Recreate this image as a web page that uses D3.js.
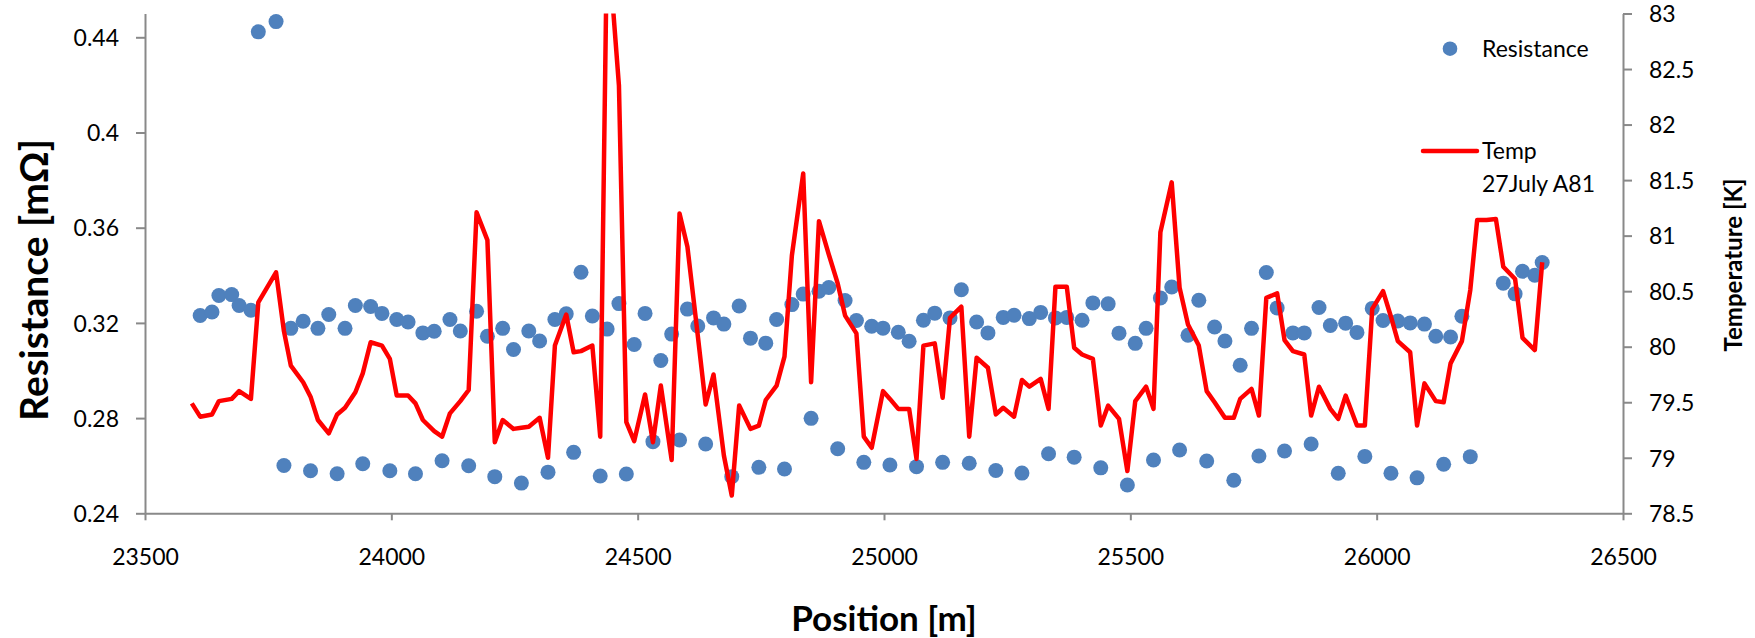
<!DOCTYPE html>
<html>
<head>
<meta charset="utf-8">
<script src="https://cdn.jsdelivr.net/npm/d3@7"></script>
<style>
  html, body { margin: 0; padding: 0; background: #fff; }
  svg { display: block; }
  text { font-family: Lato, "Open Sans", sans-serif; fill: #000; }
</style>
</head>
<body>
<svg id="chart" width="1755" height="638"></svg>
<script>
// ---- data ----
const position = [
  23595, 23612, 23636, 23650, 23676, 23691, 23715, 23730, 23766, 23782,
  23796, 23821, 23836, 23851, 23873, 23890, 23906, 23927, 23942, 23958,
  23981, 23997, 24011, 24034, 24049, 24064, 24087, 24103, 24119, 24140,
  24157, 24173, 24195, 24210, 24226, 24248, 24264, 24279, 24301, 24318,
  24332, 24355, 24370, 24385, 24408, 24424, 24438, 24462, 24477, 24493,
  24515, 24531, 24547, 24569, 24585, 24601, 24622, 24638, 24654, 24675,
  24691, 24706, 24729, 24746, 24760, 24782, 24798, 24813, 24836, 24852,
  24868, 24888, 24906, 24921, 24944, 24959, 24975, 24998, 25012, 25029,
  25051, 25066, 25080, 25103, 25119, 25134, 25157, 25173, 25188, 25211,
  25227, 25242, 25264, 25280, 25295, 25318, 25334, 25348, 25371, 25386,
  25402, 25424, 25440, 25455, 25477, 25494, 25510, 25532, 25547, 25561,
  25584, 25600, 25617, 25639, 25655, 25671, 25692, 25710, 25723, 25746,
  25761, 25776, 25798, 25813, 25830, 25853, 25867, 25883, 25906, 25922,
  25937, 25960, 25976, 25991, 26013, 26029, 26043, 26068, 26082, 26097,
  26120, 26136, 26150, 26173, 26190, 26204, 26223, 26242, 26257, 26281,
  26296, 26321, 26336
];
const resistance = [
  null,   0.3231, 0.3246, 0.3315, 0.3319, 0.3273, 0.3253, 0.4423, 0.4466, 0.2601,
  0.3177, 0.3207, 0.2579, 0.3177, 0.3235, 0.2566, 0.3177, 0.3273, 0.2608, 0.3269,
  0.3240, 0.2579, 0.3214, 0.3204, 0.2566, 0.3158, 0.3165, 0.2621, 0.3214, 0.3166,
  0.2600, 0.3249, 0.3144, 0.2554, 0.3177, 0.3088, 0.2527, 0.3166, 0.3124, 0.2573,
  0.3214, 0.3238, 0.2656, 0.3413, 0.3229, 0.2557, 0.3174, 0.3281, 0.2565, 0.3109,
  0.3240, 0.2701, 0.3042, 0.3153, 0.2708, 0.3258, 0.3187, 0.2691, 0.3221, 0.3195,
  0.2554, 0.3271, 0.3136, 0.2593, 0.3115, 0.3214, 0.2586, 0.3277, 0.3321, 0.2799,
  0.3333, 0.3349, 0.2671, 0.3294, 0.3210, 0.2614, 0.3186, 0.3178, 0.2603, 0.3161,
  0.3123, 0.2596, 0.3211, 0.3241, 0.2614, 0.3221, 0.3339, 0.2610, 0.3204, 0.3158,
  0.2580, 0.3223, 0.3232, 0.2569, 0.3218, 0.3244, 0.2650, 0.3221, 0.3223, 0.2636,
  0.3211, 0.3284, 0.2591, 0.3280, 0.3157, 0.2519, 0.3114, 0.3177, 0.2624, 0.3305,
  0.3351, 0.2666, 0.3148, 0.3295, 0.2620, 0.3183, 0.3124, 0.2539, 0.3022, 0.3177,
  0.2641, 0.3412, 0.3263, 0.2662, 0.3158, 0.3158, 0.2691, 0.3265, 0.3189, 0.2568,
  0.3199, 0.3160, 0.2639, 0.3261, 0.3210, 0.2568, 0.3208, 0.3200, 0.2549, 0.3195,
  0.3144, 0.2606, 0.3141, 0.3228, 0.2638, null,   null,   null,   0.3367, 0.3322,
  0.3417, 0.3400, 0.3454
];
const temperature = [
  79.49, 79.37, 79.39, 79.51, 79.53, 79.60, 79.53, 80.40, 80.67, 80.14,
  79.83, 79.68, 79.55, 79.34, 79.22, 79.39, 79.45, 79.59, 79.76, 80.04,
  80.01, 79.89, 79.56, 79.56, 79.49, 79.34, 79.24, 79.19, 79.40, 79.51,
  79.61, 81.21, 80.96, 79.14, 79.34, 79.26, 79.27, 79.28, 79.36, 79.00,
  80.01, 80.29, 79.95, 79.96, 80.01, 79.19, 83.75, 82.35, 79.32, 79.15,
  79.57, 79.14, 79.65, 78.98, 81.20, 80.90, 80.10, 79.48, 79.75, 79.02,
  78.66, 79.47, 79.26, 79.29, 79.52, 79.65, 79.91, 80.82, 81.56, 79.68,
  81.13, 80.83, 80.57, 80.28, 80.12, 79.19, 79.09, 79.60, 79.53, 79.44,
  79.44, 78.99, 80.01, 80.03, 79.54, 80.26, 80.36, 79.19, 79.90, 79.81,
  79.39, 79.45, 79.37, 79.70, 79.64, 79.71, 79.44, 80.54, 80.54, 79.99,
  79.93, 79.89, 79.29, 79.47, 79.35, 78.88, 79.51, 79.64, 79.44, 81.03,
  81.48, 80.53, 80.20, 80.01, 79.60, 79.50, 79.36, 79.36, 79.53, 79.62,
  79.38, 80.44, 80.48, 80.06, 79.96, 79.93, 79.38, 79.64, 79.44, 79.35,
  79.56, 79.29, 79.29, 80.34, 80.50, 80.27, 80.05, 79.95, 79.29, 79.67,
  79.51, 79.50, 79.85, 80.05, 80.51, 81.14, 81.14, 81.15, 80.72, 80.61,
  80.08, 79.97, 80.76
];
const xTicks = [23500, 24000, 24500, 25000, 25500, 26000, 26500];
const resTicks = [0.24, 0.28, 0.32, 0.36, 0.4, 0.44];
const tempTicks = [78.5, 79, 79.5, 80, 80.5, 81, 81.5, 82, 82.5, 83];
const legendItems = [
  {type: "dot", lines: ["Resistance"]},
  {type: "line", lines: ["Temp", "27July A81"]}
];

// ---- layout ----
const plot = {left: 145, right: 1623, top: 13.5, bottom: 513.3};
const blue = "#4F81BD", red = "#FF0000", axisGray = "#898989";

const svg = d3.select("#chart");

const x = d3.scaleLinear().domain([23500, 26500]).range([plot.left, plot.right]);
const yR = d3.scaleLinear().domain([0.24, 0.45]).range([plot.bottom, plot.top]);
const yT = d3.scaleLinear().domain([78.5, 83]).range([plot.bottom, plot.top]);

svg.append("defs").append("clipPath").attr("id", "plotClip")
  .append("rect")
  .attr("x", plot.left).attr("y", plot.top)
  .attr("width", plot.right - plot.left).attr("height", plot.bottom - plot.top);

function styleAxis(g) {
  g.select(".domain").attr("stroke", axisGray).attr("stroke-width", 2);
  g.selectAll(".tick line").attr("stroke", axisGray).attr("stroke-width", 2);
  g.selectAll(".tick text").attr("fill", "#000")
    .style("font-family", "Lato, sans-serif").style("font-size", "23px");
}

// bottom axis
const gx = svg.append("g").attr("transform", `translate(0,${plot.bottom})`)
  .call(d3.axisBottom(x).tickValues(xTicks).tickSize(7).tickSizeOuter(0)
        .tickPadding(30).tickFormat(d3.format("d")));
styleAxis(gx);
gx.selectAll(".tick text").attr("dy", "0").attr("y", 52);

// left axis
const gl = svg.append("g").attr("transform", `translate(${plot.left},0)`)
  .call(d3.axisLeft(yR).tickValues(resTicks).tickSize(9).tickSizeOuter(0)
        .tickPadding(17).tickFormat(d => String(+d.toFixed(2))));
styleAxis(gl);
gl.selectAll(".tick text").attr("dy", "0.36em");

// right axis
const gr = svg.append("g").attr("transform", `translate(${plot.right},0)`)
  .call(d3.axisRight(yT).tickValues(tempTicks).tickSize(9).tickSizeOuter(0)
        .tickPadding(17).tickFormat(d => String(d)));
styleAxis(gr);
gr.selectAll(".tick text").attr("dy", "0.36em");

// resistance scatter
const idx = d3.range(position.length);
svg.append("g").selectAll("circle")
  .data(idx.filter(i => resistance[i] != null))
  .join("circle")
  .attr("cx", i => x(position[i]))
  .attr("cy", i => yR(resistance[i]))
  .attr("r", 7.5)
  .attr("fill", blue);

// temperature line
const line = d3.line()
  .defined(i => temperature[i] != null)
  .x(i => x(position[i]))
  .y(i => yT(temperature[i]));
svg.append("path")
  .datum(idx)
  .attr("clip-path", "url(#plotClip)")
  .attr("d", line)
  .attr("fill", "none")
  .attr("stroke", red)
  .attr("stroke-width", 4.5)
  .attr("stroke-linejoin", "round");

// axis titles
svg.append("text")
  .attr("x", (plot.left + plot.right) / 2).attr("y", 631)
  .attr("text-anchor", "middle")
  .style("font-size", "35px").style("font-weight", "bold")
  .text("Position [m]");

svg.append("text")
  .attr("transform", "translate(48,280) rotate(-90)")
  .attr("text-anchor", "middle")
  .style("font-size", "39px").style("font-weight", "bold")
  .text("Resistance [mΩ]");

svg.append("text")
  .attr("transform", "translate(1742,265) rotate(-90)")
  .attr("text-anchor", "middle")
  .style("font-size", "24px").style("font-weight", "bold")
  .text("Temperature [K]");

// legend
const lg = svg.append("g");
lg.append("circle").attr("cx", 1450).attr("cy", 48.7).attr("r", 7.3).attr("fill", blue);
lg.append("text").attr("x", 1482).attr("y", 56.7).style("font-size", "23px").text(legendItems[0].lines[0]);
lg.append("line").attr("x1", 1423).attr("x2", 1477).attr("y1", 151).attr("y2", 151)
  .attr("stroke", red).attr("stroke-width", 4.5).attr("stroke-linecap", "round");
legendItems[1].lines.forEach((t, k) => {
  lg.append("text").attr("x", 1482).attr("y", 159.3 + 33 * k).style("font-size", "23px").text(t);
});
</script>
</body>
</html>
